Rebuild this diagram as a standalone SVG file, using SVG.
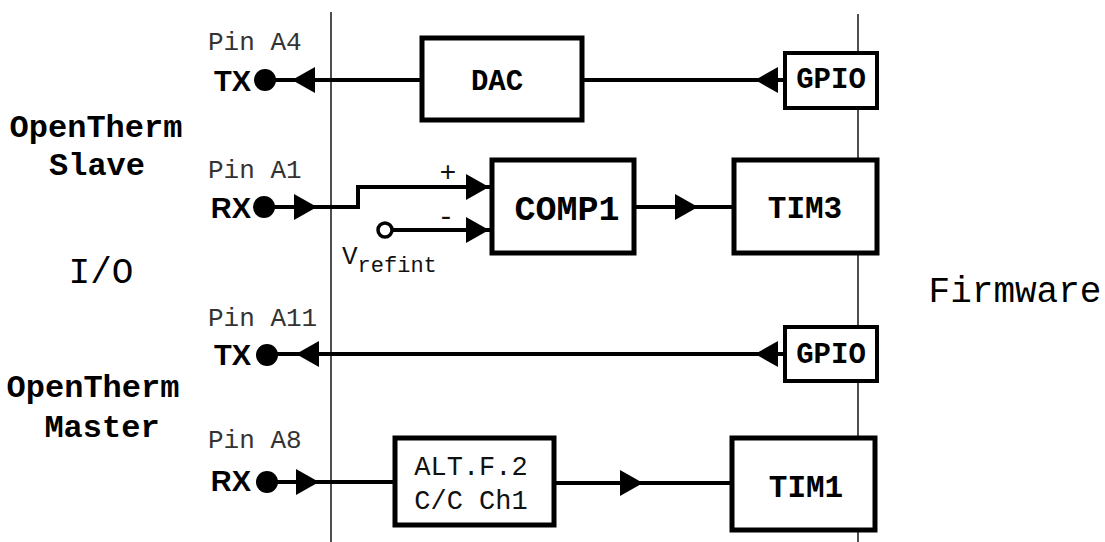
<svg xmlns="http://www.w3.org/2000/svg" width="1105" height="542" viewBox="0 0 1105 542">
<style>
.bg{fill:#fff}
.vl{stroke:#222;stroke-width:1.6;fill:none}
.w{stroke:#000;stroke-width:4;fill:none}
.box{fill:#fff;stroke:#000;stroke-width:5}
.sbox{fill:#fff;stroke:#000;stroke-width:4}
.dot{fill:#000}
.mono{font-family:"Liberation Mono","DejaVu Sans Mono",monospace;fill:#111}
.pin{font-family:"Liberation Mono","DejaVu Sans Mono",monospace;font-size:26px;fill:#333}
.io{font-family:"Liberation Sans",Arial,sans-serif;font-weight:bold;font-size:29px;fill:#000;text-anchor:end}
.bl{font-family:"Liberation Mono","DejaVu Sans Mono",monospace;font-weight:bold;fill:#000;text-anchor:middle}
.side{font-family:"Liberation Mono","DejaVu Sans Mono",monospace;font-weight:bold;font-size:32px;fill:#000;text-anchor:middle}
.big{font-family:"Liberation Mono","DejaVu Sans Mono",monospace;font-size:36px;fill:#000}
</style>
<defs>
<marker id="arr" viewBox="0 0 23 26" refX="23" refY="13" markerWidth="23" markerHeight="26" markerUnits="userSpaceOnUse" orient="auto">
<path d="M0 0 L23 13 L0 26 Z" fill="#000"/>
</marker>
</defs>
<rect class="bg" x="0" y="0" width="1105" height="542"/>
<g id="boundaries">
<line class="vl" x1="331" y1="12" x2="331" y2="542"/>
<line class="vl" x1="858" y1="14" x2="858" y2="542"/>
</g>
<g id="connectors">
<path class="w" d="M785 80 H265"/>
<path class="w" d="M330 80 H292" marker-end="url(#arr)"/>
<path class="w" d="M790 80 H755" marker-end="url(#arr)"/>
<path class="w" d="M264 207 H358 V187 H492"/>
<path class="w" d="M280 207 H317" marker-end="url(#arr)"/>
<path class="w" d="M440 187 H489" marker-end="url(#arr)"/>
<path class="w" d="M392 230 H492"/>
<path class="w" d="M440 230 H489" marker-end="url(#arr)"/>
<path class="w" d="M634 207 H734"/>
<path class="w" d="M660 207 H698" marker-end="url(#arr)"/>
<path class="w" d="M785 354 H267"/>
<path class="w" d="M330 354 H296" marker-end="url(#arr)"/>
<path class="w" d="M790 354 H755" marker-end="url(#arr)"/>
<path class="w" d="M267 482 H395"/>
<path class="w" d="M280 482 H319" marker-end="url(#arr)"/>
<path class="w" d="M554 483 H732"/>
<path class="w" d="M600 483 H643" marker-end="url(#arr)"/>
</g>
<g id="dac">
<rect class="box" x="422" y="38" width="160" height="82"/>
<text class="bl" x="497" y="90" font-size="29">DAC</text>
</g>
<g id="gpio1">
<rect class="sbox" x="785" y="53" width="92" height="55"/>
<text class="bl" x="831" y="88" font-size="29">GPIO</text>
</g>
<g id="comp1">
<rect class="box" x="492" y="160" width="142" height="93"/>
<text class="bl" x="567" y="220" font-size="35">COMP1</text>
</g>
<g id="tim3">
<rect class="box" x="734" y="160" width="143" height="93"/>
<text class="bl" x="805" y="218" font-size="31">TIM3</text>
</g>
<g id="gpio2">
<rect class="sbox" x="785" y="327" width="92" height="54"/>
<text class="bl" x="831" y="363" font-size="29">GPIO</text>
</g>
<g id="altf2">
<rect class="box" x="395" y="438" width="159" height="87"/>
<text class="mono" x="471" y="475" font-size="27" text-anchor="middle">ALT.F.2</text>
<text class="mono" x="471" y="509" font-size="27" text-anchor="middle">C/C Ch1</text>
</g>
<g id="tim1">
<rect class="box" x="732" y="438" width="143" height="92"/>
<text class="bl" x="806" y="497" font-size="31">TIM1</text>
</g>
<g id="vrefint">
<circle cx="385" cy="230" r="7" fill="#fff" stroke="#000" stroke-width="3.5"/>
<text class="mono" x="342" y="264" font-size="26" fill="#333">V<tspan font-size="22" dy="8">refint</tspan></text>
<text class="mono" x="448" y="181" font-size="28" text-anchor="middle">+</text>
<text class="mono" x="446" y="225" font-size="28" text-anchor="middle">-</text>
</g>
<g id="pin-a4">
<circle class="dot" cx="265" cy="80" r="11"/>
<text class="pin" x="208" y="50">Pin A4</text>
<text class="io" x="251" y="91">TX</text>
</g>
<g id="pin-a1">
<circle class="dot" cx="264" cy="207" r="11"/>
<text class="pin" x="208" y="178">Pin A1</text>
<text class="io" x="251" y="218">RX</text>
</g>
<g id="pin-a11">
<circle class="dot" cx="267" cy="355" r="11"/>
<text class="pin" x="208" y="326">Pin A11</text>
<text class="io" x="251" y="365">TX</text>
</g>
<g id="pin-a8">
<circle class="dot" cx="267" cy="482" r="11"/>
<text class="pin" x="208" y="448">Pin A8</text>
<text class="io" x="251" y="491">RX</text>
</g>
<g id="labels">
<text class="side" x="96" y="137">OpenTherm</text>
<text class="side" x="97" y="175">Slave</text>
<text class="big" x="101" y="283" text-anchor="middle">I/O</text>
<text class="side" x="93" y="397">OpenTherm</text>
<text class="side" x="102" y="437">Master</text>
<text class="big" x="1015" y="302" text-anchor="middle">Firmware</text>
</g>
</svg>
